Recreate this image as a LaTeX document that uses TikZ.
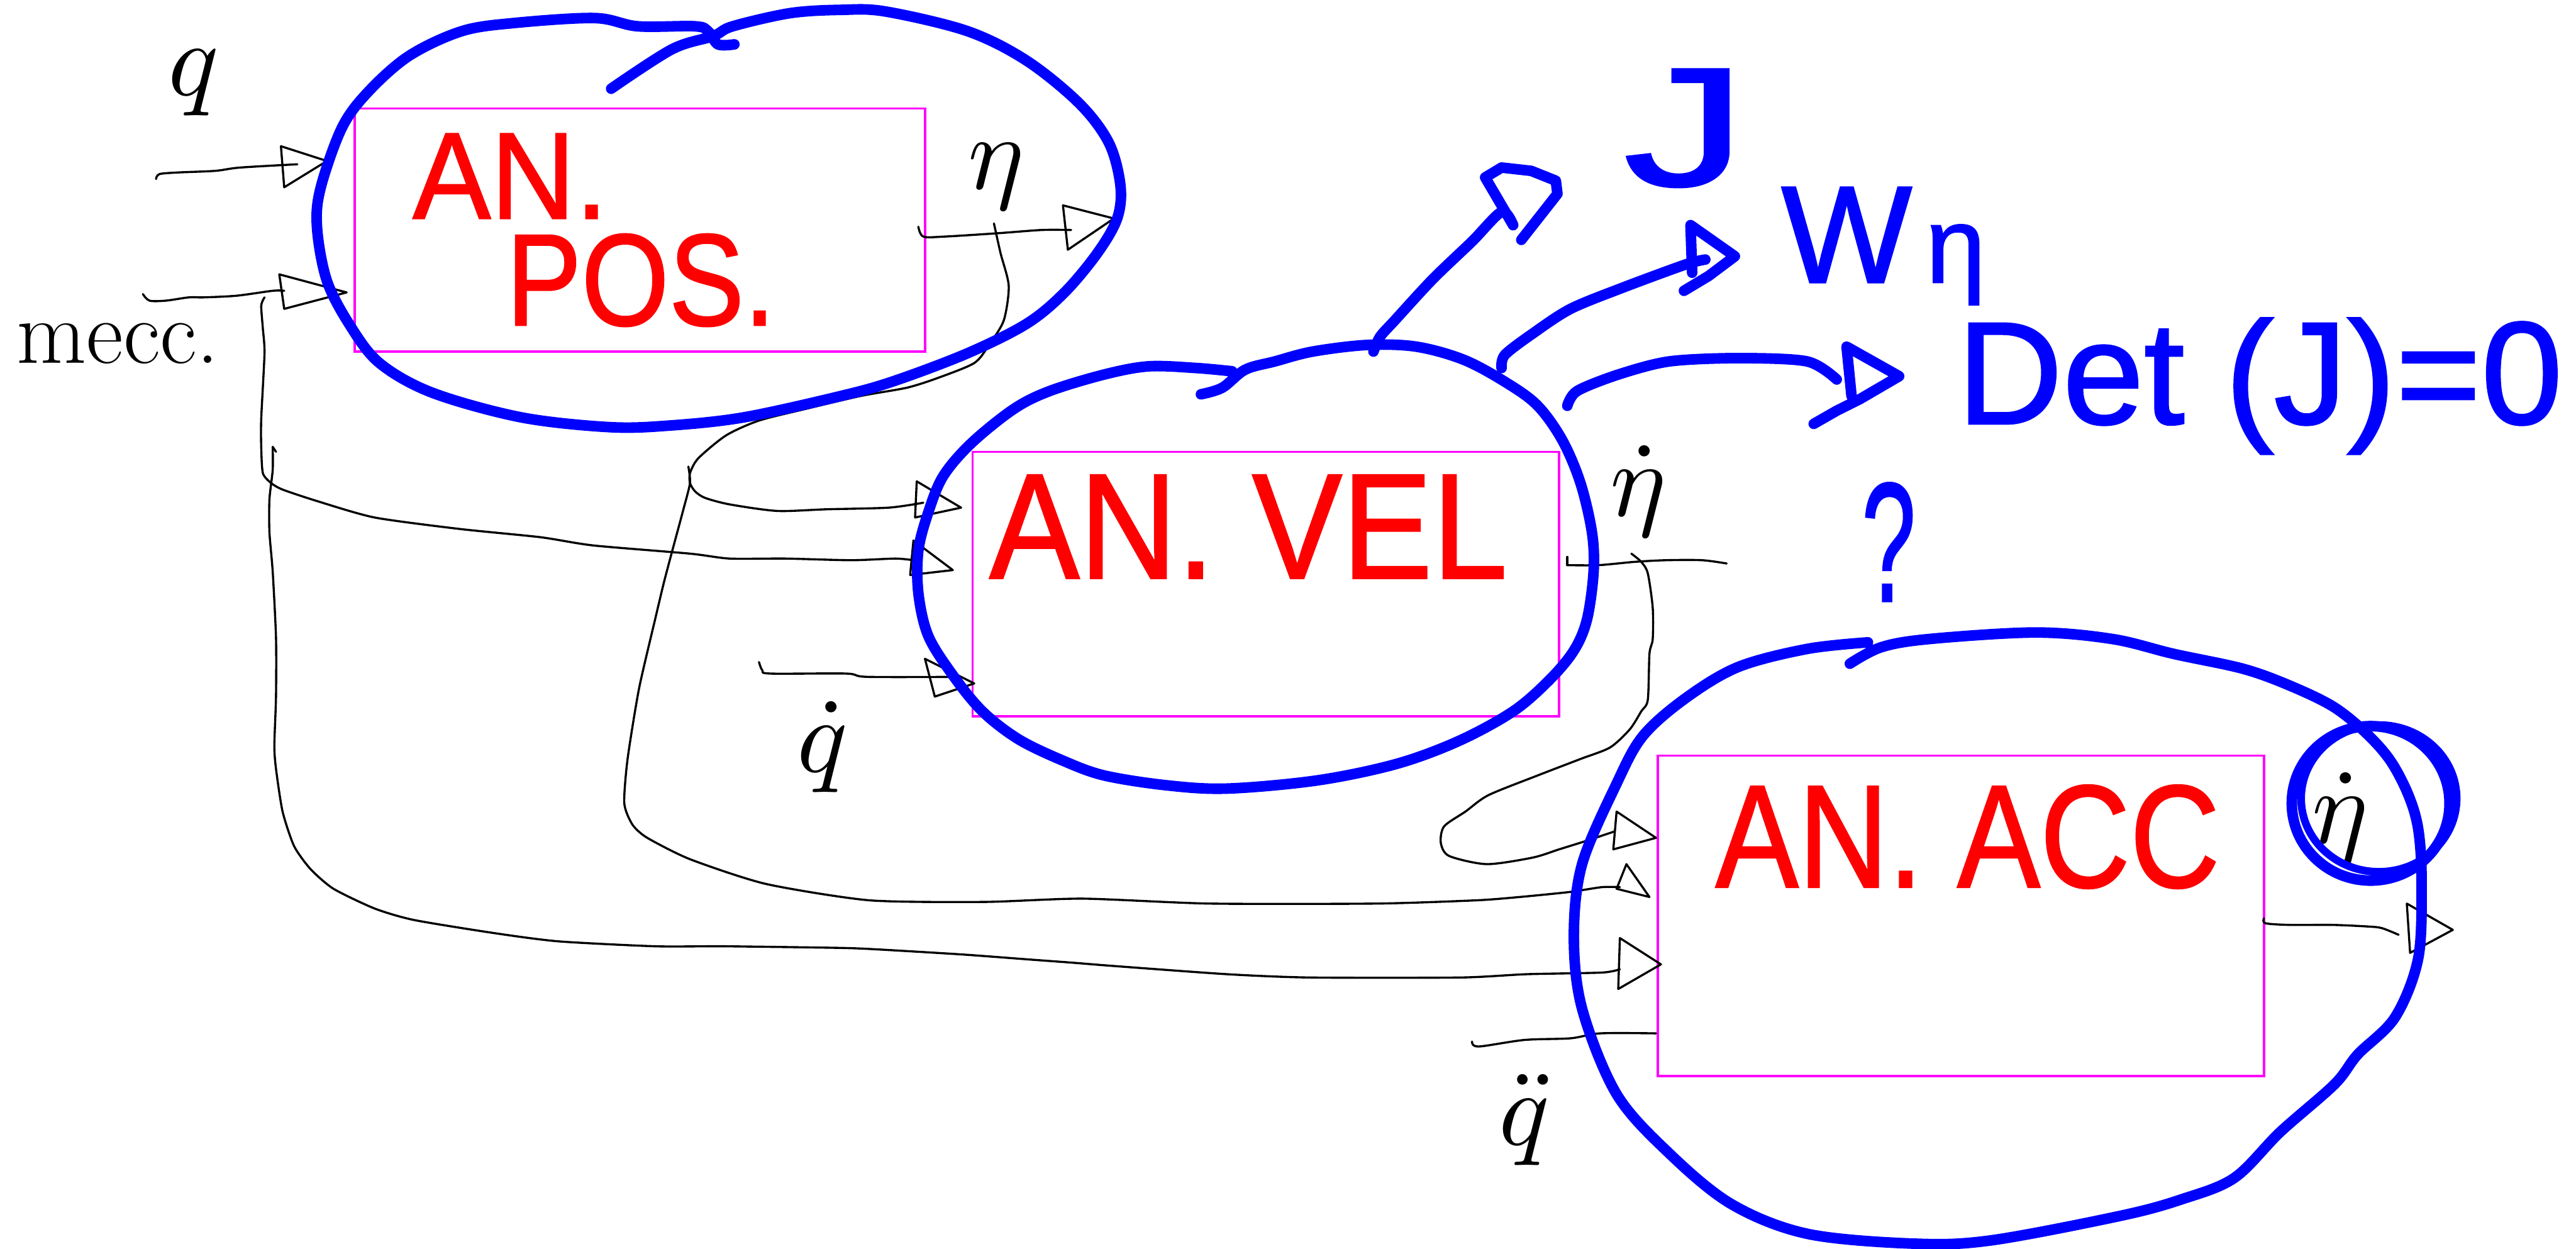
\documentclass[tikz,border=0pt]{standalone}
\usepackage[no-math]{fontspec}
\newfontfamily\marker{Liberation Sans}[FakeBold=1.2]
\usepackage{graphicx}

\definecolor{penblue}{RGB}{0,0,255}
\definecolor{penred}{RGB}{255,0,0}
\definecolor{penmag}{RGB}{255,0,255}

% open, hand-drawn arrow head: back-top, tip, back-bottom
\newcommand\headtri[3]{\draw[wire] (#1) -- (#2) -- (#3) -- cycle;}
% large handwritten-size symbol
\newcommand\bigsym[1]{\scalebox{5}{$#1$}}

\tikzset{
  bluepen/.style={draw=penblue, line width=5.5pt, line cap=round, line join=round},
  wire/.style={draw=black, line width=1.1pt, line cap=round, line join=round},
  box/.style={draw=penmag, line width=1.2pt},
  redtxt/.style={text=penred, inner sep=0pt, anchor=base west},
  bluetxt/.style={text=penblue, inner sep=0pt, anchor=base west},
  lbl/.style={inner sep=0pt, anchor=base west, font=\fontsize{11}{13}\selectfont},
}

\begin{document}
\begin{tikzpicture}[x=0.03cm, y=-0.03cm]
\useasboundingbox (0,0) rectangle (1568,760);
\fill[white] (0,0) rectangle (1568,760);

% ---------- analysis blocks ----------
\coordinate (posNW) at (216,66);   \coordinate (posSE) at (563,214);
\coordinate (velNW) at (592,275);  \coordinate (velSE) at (949,436);
\coordinate (accNW) at (1009,460); \coordinate (accSE) at (1378,655);
\draw[box] (posNW) rectangle (posSE);
\draw[box] (velNW) rectangle (velSE);
\draw[box] (accNW) rectangle (accSE);

\node[redtxt, font=\marker\fontsize{64}{66}\selectfont] (posA) at (251,133) {\scalebox{0.95}[1]{AN.}};
\node[redtxt, font=\marker\fontsize{68}{70}\selectfont] (posB) at (308,198) {\scalebox{0.86}[1]{POS.}};
\node[redtxt, font=\marker\fontsize{78}{80}\selectfont] (velT) at (602,352) {\scalebox{0.9}[1]{AN. VEL}};
\node[redtxt, font=\marker\fontsize{76}{80}\selectfont] (accT) at (1044,540) {\scalebox{0.85}[1]{AN. ACC}};

% ---------- signal labels ----------
\node[lbl] (lq) at (102,58) {\bigsym{q}};
\node[inner sep=0pt, anchor=base west, font=\fontsize{47}{52}\selectfont] (lmecc) at (10,221) {mecc.};
\node[lbl] (leta) at (589,115) {\bigsym{\eta}};
\node[lbl] (letad) at (980,314) {\bigsym{\dot\eta}};
\node[lbl] (letadd) at (1407,513) {\bigsym{\dot\eta}};
\node[lbl] (lqd) at (485,470) {\bigsym{\dot q}};
\node[lbl] (lqdd) at (912,697) {\bigsym{\ddot q}};

% ---------- wires ----------
% q into position analysis
\coordinate (qIn) at (95,109);
\draw[wire] plot[smooth, tension=.5] coordinates {(qIn) (97,106) (108,105) (131,104) (146,102) (181,100)};
\headtri{171,89}{199,98}{173,114}

% mechanism data into position analysis
\coordinate (meccIn) at (87,179);
\draw[wire] plot[smooth, tension=.5] coordinates {(meccIn) (91,183) (101,183) (115,181) (124,181) (144,180) (166,177) (173,177)};
\headtri{170,167}{211,178}{173,188}

% mechanism data down to velocity analysis
\draw[wire] plot[smooth, tension=.4] coordinates {(161,181) (159,186) (160,200) (161,215) (159,255) (159,272) (160,288) (165,294) (172,298) (193,305) (228,315) (280,322) (329,327) (361,332) (420,337) (444,340) (478,340) (518,341) (545,340) (556,341)};
\headtri{556,329}{580,347}{554,350}

% mechanism data down to acceleration analysis
\draw[wire] (166,272) -- (168,275);
\draw[wire] plot[smooth, tension=.4] coordinates {(166,272) (166,286) (164,304) (164,324) (166,348) (168,388) (168,424) (167,454) (168,468) (172,494) (179,515) (189,529) (203,541) (228,553) (252,560) (301,568) (340,573) (399,576) (441,576) (512,577) (536,578) (586,581) (626,584) (653,586) (678,588) (747,593) (797,595) (889,595) (929,593) (975,592) (986,590)};
\headtri{986,571}{1011,587}{985,602}

% eta output of position analysis
\coordinate (posOut) at (559,138);
\draw[wire] plot[smooth, tension=.5] coordinates {(posOut) (562,144) (575,144) (607,142) (634,140) (652,140)};
\headtri{647,125}{678,133}{650,152}

% eta back to velocity analysis
\draw[wire] plot[smooth, tension=.45] coordinates {(605,136) (609,154) (614,174) (611,195) (602,210) (593,221) (571,230) (552,236) (524,241) (490,249) (462,256) (442,265) (425,279) (420,288) (420,294) (423,299) (429,303) (444,307) (473,311) (503,310) (541,309) (562,306)};
\headtri{558,293}{585,309}{557,315}

% eta down to acceleration analysis
\draw[wire] plot[smooth, tension=.4] coordinates {(419,284) (420,294) (416,310) (409,336) (404,355) (399,376) (389,419) (382,462) (380,489) (385,502) (394,510) (420,523) (466,538) (529,548) (599,549) (659,547) (736,550) (838,550) (899,548) (925,546) (955,543) (975,540) (986,540)};
\headtri{990,526}{1004,546}{984,541}

% q dot into velocity analysis
\coordinate (qdIn) at (462,403);
\draw[wire] plot[smooth, tension=.5] coordinates {(qdIn) (464,408) (469,410) (515,410) (528,412) (584,412)};
\headtri{563,401}{593,416}{569,424}

% eta dot output of velocity analysis
\coordinate (velOut) at (954,344);
\draw[wire] (954,339) -- (velOut);
\draw[wire] plot[smooth, tension=.5] coordinates {(velOut) (973,344) (995,342) (1014,341) (1036,341) (1051,343)};

% eta dot down to acceleration analysis
\draw[wire] plot[smooth, tension=.45] coordinates {(993,337) (999,342) (1003,349) (1006,370) (1006,389) (1004,398) (1003,426) (999,433) (992,444) (980,455) (962,462) (936,472) (906,484) (892,494) (879,503) (877,513) (882,521) (905,526) (933,522) (949,517) (965,512) (983,506)};
\headtri{984,494}{1008,510}{982,517}

% q double dot into acceleration analysis
\coordinate (qddIn) at (896,634);
\draw[wire] plot[smooth, tension=.5] coordinates {(qddIn) (900,637) (928,633) (956,632) (974,629) (1008,629)};

% eta double dot output
\coordinate (accOut) at (1378,559);
\draw[wire] plot[smooth, tension=.5] coordinates {(accOut) (1379,562) (1394,563) (1420,563) (1442,564) (1450,565) (1460,569)};
\headtri{1465,550}{1493,566}{1467,580}

% ---------- blue annotations ----------
% loop round the position analysis
\draw[bluepen] plot[smooth, tension=.55] coordinates {(372,54) (409,30) (434,22) (446,16) (481,8) (512,6) (539,7) (589,19) (625,37) (657,63) (675,87) (682,113) (680,133) (668,154) (648,178) (625,197) (589,215) (544,232) (512,241) (453,254) (408,259) (371,260) (317,254) (263,239) (231,221) (213,198) (199,171) (193,139) (195,115) (208,78) (224,56) (249,34) (281,19) (313,14) (362,11) (388,16) (423,16) (431,19) (437,27) (447,27)};

% loop round the velocity analysis
\draw[bluepen] plot[smooth, tension=.55] coordinates {(731,240) (744,236) (758,225) (776,220) (799,214) (832,210) (862,211) (891,219) (917,233) (936,247) (951,268) (962,294) (969,324) (970,348) (966,377) (958,396) (943,414) (921,433) (888,451) (850,465) (802,475) (747,480) (710,478) (672,472) (647,463) (620,450) (598,433) (580,411) (565,387) (559,361) (559,335) (565,312) (574,290) (591,270) (617,249) (639,238) (672,228) (699,223) (728,224) (750,226)};

% loop round the acceleration analysis
\draw[bluepen] plot[smooth, tension=.55] coordinates {(1126,404) (1145,394) (1174,389) (1239,385) (1286,389) (1323,398) (1365,407) (1393,417) (1420,430) (1440,446) (1455,463) (1466,484) (1472,505) (1474,536) (1472,583) (1458,619) (1435,642) (1421,660) (1388,689) (1360,717) (1328,730) (1291,740) (1212,755) (1165,757) (1100,751) (1054,733) (1016,702) (984,666) (963,614) (958,570) (963,526) (984,477) (1000,448) (1026,425) (1058,406) (1100,395) (1137,391)};

% ring round the acceleration output
\draw[bluepen] (1443,489) ellipse [x radius=1.44cm, y radius=1.41cm];
\draw[bluepen, line width=4pt] (1448,486) ellipse [x radius=1.42cm, y radius=1.34cm];

% arrow to J
\draw[bluepen] plot[smooth, tension=.5] coordinates {(836,214) (840,205) (849,195) (872,170) (896,147) (914,129) (921,137)};
\draw[bluepen] (921,137) -- (904,108) -- (914,102) -- (932,104) -- (947,110) -- (948,118) -- (926,146);

% arrow to W eta
\draw[bluepen] plot[smooth, tension=.5] coordinates {(914,224) (916,216) (933,203) (956,188) (988,175) (1026,161) (1038,158)};
\draw[bluepen] (1030,166) -- (1029,137) -- (1056,156) -- (1040,168) -- (1025,177);

% arrow to Det(J)
\draw[bluepen] plot[smooth, tension=.5] coordinates {(954,247) (960,238) (985,228) (1016,220) (1058,218) (1100,220) (1118,231)};
\draw[bluepen] (1127,241) -- (1124,211) -- (1156,229) -- (1132,243) -- (1118,250) -- (1104,258);

\node[bluetxt, font=\marker\fontsize{88}{90}\selectfont] (tJ) at (988,113) {\scalebox{1.45}[1]{J}};
\node[bluetxt, font=\marker\fontsize{72}{75}\selectfont] (tW) at (1084,172) {W};
\node[bluetxt, font=\marker\fontsize{56}{60}\selectfont] (tWeta) at (1172,172) {η};
\node[bluetxt, font=\marker\fontsize{76}{78}\selectfont] (tDet) at (1191,258) {Det (J)=0};
\node[bluetxt, font=\marker\fontsize{84}{88}\selectfont] (tQ) at (1133,366) {\scalebox{0.6}[1.05]{?}};

\end{tikzpicture}
\end{document}
